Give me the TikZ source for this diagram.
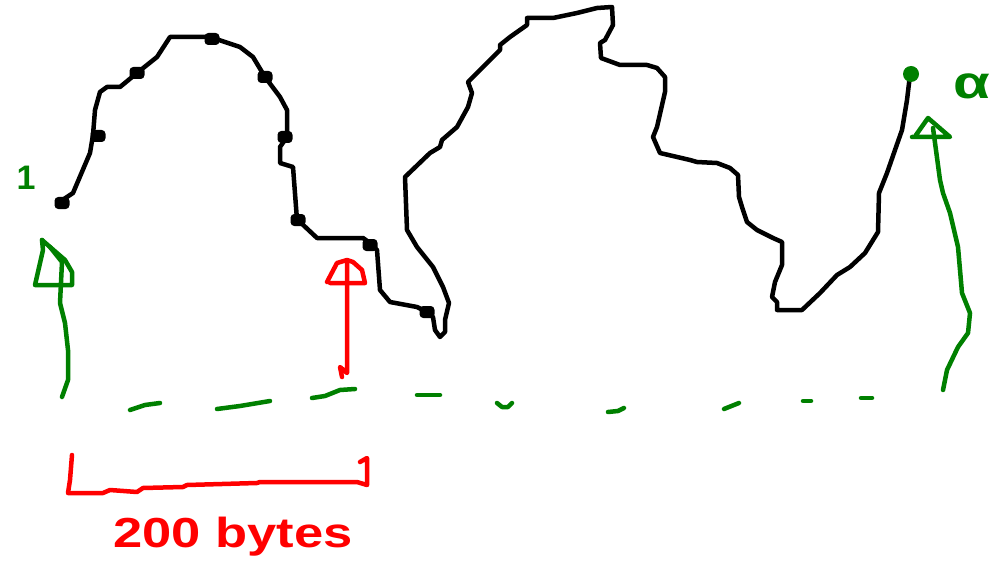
\documentclass[tikz,border=0pt]{standalone}
\usepackage{fontspec}
\setmainfont{Liberation Sans}
\begin{document}
\begin{tikzpicture}[x=1pt,y=-1pt,
  ink/.style={line width=4.5pt,line cap=round,line join=round},
  wave/.style={ink,black},
  grn/.style={ink,draw={rgb,255:red,0;green,128;blue,0}},
  rd/.style={ink,draw=red},
  knot/.style={draw=black,fill=black,line width=2pt,rounded corners=3pt,minimum width=13pt,minimum height=10pt,inner sep=0pt},
  lbl/.style={inner sep=0pt}
]
\definecolor{sketchgreen}{RGB}{0,128,0}
\useasboundingbox[fill=white] (0,0) rectangle (1006,572);

% black wave
\draw[wave] (58,203) -- (73,193) -- (90,153) -- (93,135) -- (95,110) -- (100,92) -- (107,87) -- (120,87)
  -- (137,73) -- (157,57) -- (170,37) -- (207,37) -- (213,38) -- (240,47) -- (253,57) -- (265,77)
  -- (280,97) -- (287,110) -- (287,137) -- (280,147) -- (280,163) -- (293,167) -- (297,220)
  -- (300,222) -- (317,238) -- (363,238) -- (370,243) -- (377,250) -- (380,290) -- (390,302)
  -- (417,307) -- (427,312) -- (433,317) -- (435,330) -- (440,337) -- (445,332) -- (445,320)
  -- (449,303) -- (443,287) -- (433,267) -- (417,247) -- (407,230) -- (405,177) -- (430,153)
  -- (440,147) -- (442,140) -- (457,127) -- (468,107) -- (472,93) -- (468,82) -- (490,60)
  -- (500,50) -- (500,45) -- (510,37) -- (527,25) -- (527,18) -- (553,18) -- (577,13)
  -- (597,8) -- (612,7) -- (613,25) -- (605,40) -- (600,43) -- (601,58) -- (620,65)
  -- (647,65) -- (657,68) -- (665,77) -- (665,92) -- (657,127) -- (653,137) -- (660,153)
  -- (690,160) -- (697,162) -- (717,163) -- (730,168) -- (738,175) -- (739,197) -- (742,207)
  -- (747,222) -- (757,230) -- (773,238) -- (782,242) -- (782,265) -- (775,282) -- (772,297)
  -- (777,302) -- (777,310) -- (802,310) -- (820,293) -- (837,275) -- (850,267) -- (865,253)
  -- (878,232) -- (879,193) -- (887,173) -- (895,150) -- (902,130) -- (907,100) -- (910,75);

% knots on the wave
\node[knot] (k1) at (62,203) {};
\node[knot] (k2) at (98,136) {};
\node[knot] (k3) at (137,73) {};
\node[knot] (k4) at (212,39) {};
\node[knot] (k5) at (265,77) {};
\node[knot] (k6) at (285,137) {};
\node[knot] (k7) at (298,220) {};
\node[knot] (k8) at (370,245) {};
\node[knot] (k9) at (427,312) {};
\fill[sketchgreen] (911,74) circle (8pt);

% left green arrow
\draw[grn] (62,397) -- (68,380) -- (68,350) -- (65,323) -- (60,303) -- (62,262) -- (50,247) -- (42,240);
\draw[grn] (42,240) -- (43,250) -- (35,285) -- (72,285) -- (72,272) -- (65,260) -- (50,247);
\node[lbl,text=sketchgreen,font=\bfseries\fontsize{34}{34}\selectfont,anchor=center] (one) at (26,178) {1};

% right green arrow
\draw[grn] (943,390) -- (947,370) -- (958,347) -- (968,333) -- (970,313) -- (962,293) -- (958,247)
  -- (950,213) -- (943,193) -- (940,180) -- (933,128);
\draw[grn] (912,137) -- (950,137) -- (928,118) -- (916,135);
\node[lbl,text=sketchgreen,font=\bfseries\fontsize{46}{46}\selectfont,anchor=center,xscale=1.3] (alpha) at (972,86) {α};

% green dashed baseline
\draw[grn] (130,410) -- (145,405) -- (160,403);
\draw[grn] (217,409) -- (240,406) -- (270,401);
\draw[grn] (312,398) -- (325,396) -- (340,390) -- (355,389);
\draw[grn] (417,395) -- (440,395);
\draw[grn] (497,403) -- (502,407) -- (508,407) -- (512,403);
\draw[grn] (608,412) -- (618,411) -- (624,408);
\draw[grn] (724,409) -- (739,403);
\draw[grn] (803,401) -- (811,401);
\draw[grn] (861,398) -- (872,398);

% red arrow
\draw[rd] (342,377) -- (340,367) -- (347,373) -- (347,263);
\draw[rd] (330,283) -- (365,283) -- (362,270) -- (353,262) -- (347,260) -- (337,263) -- (327,282);

% red bracket
\draw[rd] (72,455) -- (70,480) -- (68,493) -- (103,493) -- (110,490) -- (137,492) -- (143,488)
  -- (183,487) -- (187,485) -- (257,483) -- (260,482) -- (357,482) -- (367,485) -- (367,458) -- (360,462);
\node[lbl,text=red,font=\bfseries\fontsize{42}{42}\selectfont,anchor=base west,xscale=1.25] (bytes) at (113,547) {200 bytes};
\end{tikzpicture}
\end{document}
